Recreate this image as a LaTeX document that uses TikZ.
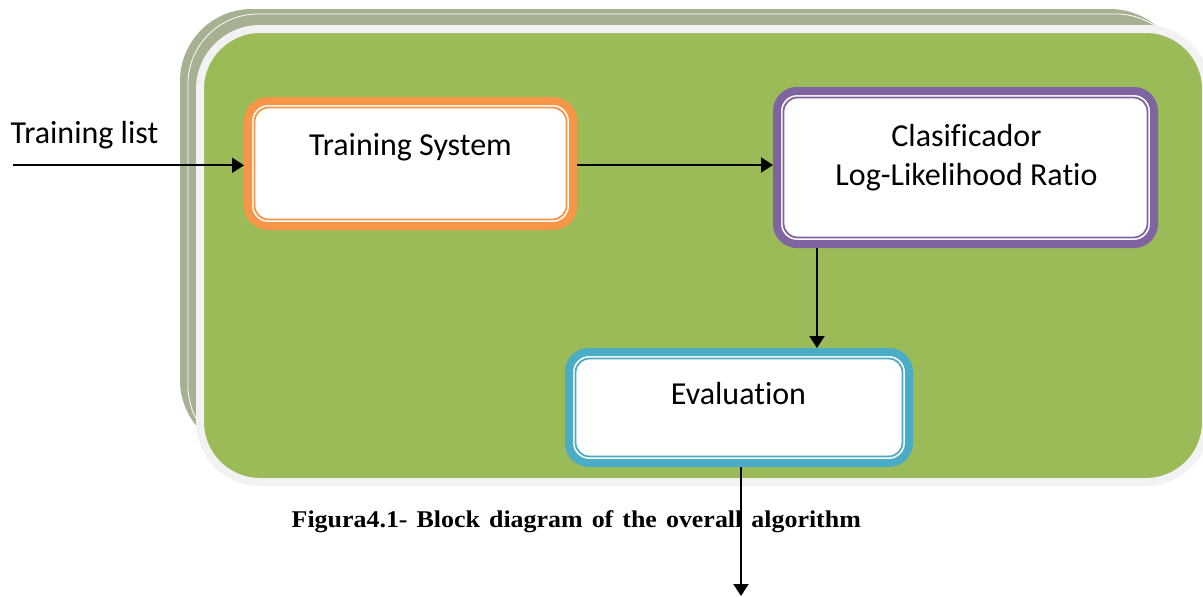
\documentclass[tikz,border=0pt]{standalone}
\usepackage{fontspec}
\setmainfont{Carlito}[Ligatures=NoCommon]
\newfontfamily\capfont{Liberation Serif}
\usetikzlibrary{arrows.meta}

\definecolor{panelgreen}{HTML}{9BBB59}
\definecolor{panelback}{HTML}{A6B092}
\definecolor{panelrim}{HTML}{F2F2F2}
\definecolor{tsorange}{HTML}{F79646}
\definecolor{clpurple}{HTML}{8064A2}
\definecolor{evblue}{HTML}{4BACC6}

\begin{document}
\begin{tikzpicture}[x=1pt,y=-1pt,
  blockbox/.style={draw=#1, line width=8pt, fill=white, rounded corners=20pt, inner sep=0pt},
  innerrim/.style={draw=#1, line width=1.8pt, rounded corners=14pt},
  boxtext/.style={font=\fontsize{32}{39}\selectfont, inner sep=0pt},
  flow/.style={line width=2pt, -{Triangle[length=12pt,width=15pt]}},
]
\useasboundingbox (0,0) rectangle (1203,597);
\clip (0,0) rectangle (1203,597);

% stacked background panels
\fill[panelback, rounded corners=72pt] (180,9) rectangle (1182,452);
\draw[white, line width=0.8pt, rounded corners=70pt] (188,14) rectangle (1186,456);
\filldraw[fill=panelgreen, draw=panelrim, line width=8pt, rounded corners=60pt]
  (200,29) rectangle (1206,482);

% blocks
\node[blockbox=tsorange, minimum width=325pt, minimum height=125pt] (ts) at (410.5,163.5) {};
\draw[innerrim=tsorange] ([shift={(10.5,10.5)}]ts.north west) rectangle ([shift={(-10.5,-10.5)}]ts.south east);
\node[boxtext, anchor=base] (tstext) at (410.5,155) {Training System};

\node[blockbox=clpurple, minimum width=377pt, minimum height=153pt] (cls) at (965.5,167.5) {};
\draw[innerrim=clpurple] ([shift={(10.5,10.5)}]cls.north west) rectangle ([shift={(-10.5,-10.5)}]cls.south east);
\node[boxtext, anchor=base] (clstextA) at (966.5,146.7) {Clasificador};
\node[boxtext, anchor=base] (clstextB) at (966.5,185.5) {Log-Likelihood Ratio};

\node[blockbox=evblue, minimum width=340pt, minimum height=111pt] (ev) at (739,407.5) {};
\draw[innerrim=evblue] ([shift={(10.5,10.5)}]ev.north west) rectangle ([shift={(-10.5,-10.5)}]ev.south east);
\node[boxtext, anchor=base] (evtext) at (738.5,404) {Evaluation};

% input label
\node[boxtext, anchor=base west] (tlist) at (10.5,143.3) {Training list};

% connectors
\coordinate (tlstart) at (13,165.3);
\draw[flow] (tlstart) -- (tlstart -| ts.west);
\coordinate (midrow) at (0,165);
\draw[flow] (midrow -| ts.east) -- (midrow -| cls.west);
\coordinate (downcol) at (817,0);
\draw[flow] (downcol |- cls.south) -- (downcol |- ev.north);
\coordinate (evout) at (741,596);
\draw[flow] (evout |- ev.south) -- (evout);

% caption, set as a justified line
\node[anchor=base west, inner sep=0pt, font=\capfont\bfseries\fontsize{24}{28}\selectfont] (cap)
  at (291.5,527.3) {\scalebox{1.08}[1]{\makebox[527pt][s]{Figura4.1- Block diagram of the overall algorithm}}};
\end{tikzpicture}
\end{document}
